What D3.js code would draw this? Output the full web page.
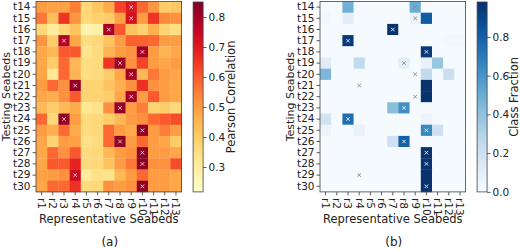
<!DOCTYPE html>
<html>
<head>
<meta charset="utf-8">
<script src="https://cdn.jsdelivr.net/npm/d3@7"></script>
<style>
  body { margin: 0; background: #fff; }
  svg text { font-family: "DejaVu Sans", sans-serif; fill: #222; }
  .axis path, .axis line { stroke: #333; stroke-width: 0.8; }
  .axis text { font-size: 10.5px; }
</style>
</head>
<body>
<svg id="chart" width="520" height="250"></svg>
<script>
// Categories
const refBeds = ["r1","r2","r3","r4","r5","r6","r7","r8","r9","r10","r11","r12","r13"];
const testBeds = ["t14","t15","t16","t17","t18","t19","t20","t21","t22","t23","t24","t25","t26","t27","t28","t29","t30"];

// (a) Pearson correlation, one row per testing seabed
const pearson = [
  [0.50,0.49,0.49,0.55,0.37,0.41,0.47,0.63,0.70,0.58,0.51,0.40,0.41],
  [0.56,0.43,0.65,0.51,0.37,0.39,0.40,0.49,0.72,0.50,0.65,0.53,0.52],
  [0.37,0.30,0.37,0.42,0.27,0.28,0.80,0.60,0.42,0.39,0.46,0.38,0.35],
  [0.51,0.40,0.78,0.48,0.35,0.37,0.42,0.50,0.59,0.59,0.58,0.50,0.50],
  [0.48,0.44,0.60,0.60,0.33,0.36,0.45,0.50,0.52,0.80,0.50,0.45,0.48],
  [0.48,0.40,0.58,0.44,0.35,0.36,0.65,0.81,0.52,0.63,0.50,0.48,0.50],
  [0.48,0.32,0.58,0.45,0.35,0.36,0.40,0.48,0.80,0.44,0.56,0.50,0.48],
  [0.50,0.58,0.52,0.82,0.38,0.38,0.42,0.46,0.52,0.66,0.52,0.50,0.48],
  [0.48,0.46,0.52,0.60,0.38,0.38,0.40,0.48,0.80,0.50,0.60,0.50,0.48],
  [0.44,0.40,0.44,0.47,0.32,0.34,0.52,0.82,0.50,0.55,0.38,0.40,0.37],
  [0.58,0.37,0.82,0.50,0.36,0.37,0.40,0.44,0.50,0.52,0.58,0.60,0.62],
  [0.50,0.46,0.58,0.47,0.36,0.37,0.58,0.50,0.47,0.83,0.50,0.55,0.50],
  [0.48,0.38,0.50,0.49,0.34,0.36,0.58,0.83,0.50,0.58,0.50,0.48,0.40],
  [0.48,0.58,0.52,0.60,0.36,0.37,0.44,0.50,0.52,0.83,0.50,0.50,0.48],
  [0.48,0.60,0.60,0.68,0.36,0.37,0.42,0.50,0.56,0.83,0.52,0.52,0.62],
  [0.49,0.50,0.52,0.74,0.30,0.34,0.33,0.44,0.50,0.58,0.50,0.50,0.48],
  [0.48,0.58,0.58,0.66,0.36,0.37,0.52,0.50,0.52,0.82,0.50,0.50,0.48]
];

// (b) Class fraction
const classFrac = [
  [0.01,0.01,0.48,0.01,0.01,0.01,0.01,0.01,0.50,0.01,0.01,0.01,0.01],
  [0.04,0.01,0.10,0.01,0.01,0.01,0.01,0.01,0.07,0.82,0.01,0.01,0.01],
  [0.01,0.01,0.01,0.01,0.01,0.01,0.97,0.01,0.01,0.01,0.01,0.01,0.01],
  [0.01,0.01,0.95,0.01,0.01,0.01,0.01,0.01,0.01,0.01,0.01,0.03,0.03],
  [0.01,0.01,0.01,0.01,0.01,0.01,0.01,0.01,0.01,0.95,0.01,0.01,0.01],
  [0.12,0.01,0.01,0.25,0.01,0.01,0.01,0.10,0.01,0.08,0.38,0.01,0.01],
  [0.45,0.01,0.01,0.01,0.01,0.01,0.01,0.01,0.01,0.25,0.01,0.22,0.01],
  [0.01,0.01,0.01,0.01,0.01,0.01,0.01,0.01,0.01,0.97,0.01,0.01,0.01],
  [0.01,0.01,0.01,0.01,0.01,0.01,0.01,0.01,0.01,0.97,0.01,0.01,0.01],
  [0.01,0.01,0.01,0.01,0.01,0.01,0.42,0.62,0.01,0.01,0.01,0.01,0.01],
  [0.18,0.01,0.75,0.01,0.01,0.01,0.01,0.01,0.01,0.06,0.01,0.01,0.01],
  [0.05,0.01,0.01,0.07,0.01,0.01,0.01,0.01,0.01,0.65,0.20,0.01,0.01],
  [0.01,0.01,0.01,0.01,0.01,0.01,0.20,0.80,0.01,0.01,0.01,0.01,0.01],
  [0.01,0.01,0.01,0.01,0.01,0.01,0.01,0.01,0.01,0.97,0.01,0.01,0.01],
  [0.01,0.01,0.01,0.01,0.01,0.01,0.01,0.01,0.01,0.97,0.01,0.01,0.01],
  [0.01,0.01,0.01,0.01,0.01,0.01,0.01,0.01,0.01,0.97,0.01,0.01,0.01],
  [0.01,0.01,0.01,0.01,0.01,0.01,0.01,0.01,0.01,0.97,0.01,0.01,0.01]
];

// best matching representative seabed per testing seabed (marked with x)
const bestMatch = ["r9","r9","r7","r3","r10","r8","r9","r4","r9","r8","r3","r10","r8","r10","r10","r4","r10"];

const pearsonTicks = [0.3, 0.4, 0.5, 0.6, 0.7, 0.8];
const fracTicks = [0.0, 0.2, 0.4, 0.6, 0.8];

const svg = d3.select("#chart");

function drawPanel(cfg) {
    const top = 1.5, cell = 11.2;
    const width = cell * refBeds.length, height = cell * testBeds.length;
    const g = svg.append("g").attr("transform", `translate(${cfg.left}, ${top})`);

    const x = d3.scaleBand().domain(refBeds).range([0, width]);
    const y = d3.scaleBand().domain(testBeds).range([0, height]);
    const color = d3.scaleSequential(cfg.interp).domain(cfg.domain);

    const cells = [];
    testBeds.forEach((t, i) => refBeds.forEach((r, j) => cells.push({t, r, v: cfg.values[i][j]})));

    g.selectAll("rect.cell")
        .data(cells)
        .enter().append("rect")
        .attr("class", "cell")
        .attr("x", d => x(d.r))
        .attr("y", d => y(d.t))
        .attr("width", x.bandwidth() + 0.3)
        .attr("height", y.bandwidth() + 0.3)
        .attr("fill", d => color(d.v));

    // x markers on the best match
    const marks = testBeds.map((t, i) => ({t, r: bestMatch[i], v: cfg.values[i][refBeds.indexOf(bestMatch[i])]}));
    const s = 1.8;
    g.selectAll("path.mark")
        .data(marks)
        .enter().append("path")
        .attr("class", "mark")
        .attr("d", d => {
            const cx = x(d.r) + x.bandwidth() / 2, cy = y(d.t) + y.bandwidth() / 2;
            return `M${cx - s},${cy - s}L${cx + s},${cy + s}M${cx - s},${cy + s}L${cx + s},${cy - s}`;
        })
        .attr("stroke", d => cfg.markColor(d.v))
        .attr("stroke-width", 0.9)
        .attr("fill", "none");

    // frame
    g.append("rect")
        .attr("width", width).attr("height", height)
        .attr("fill", "none").attr("stroke", "#444").attr("stroke-width", 0.8);

    const yAxis = g.append("g").attr("class", "axis")
        .call(d3.axisLeft(y).tickSize(3.5).tickPadding(2));
    yAxis.select(".domain").remove();

    const xAxis = g.append("g").attr("class", "axis")
        .attr("transform", `translate(0, ${height})`)
        .call(d3.axisBottom(x).tickSize(3.5).tickPadding(2));
    xAxis.select(".domain").remove();
    xAxis.selectAll("text")
        .attr("transform", "rotate(90)")
        .attr("text-anchor", "start")
        .attr("dy", "0.35em")
        .attr("x", 6)
        .attr("y", 0);

    g.append("text")
        .attr("x", width / 2).attr("y", height + 31)
        .attr("text-anchor", "middle").attr("font-size", 11.5)
        .text("Representative Seabeds");

    g.append("text")
        .attr("transform", `translate(${cfg.yTitleX}, ${height / 2}) rotate(-90)`)
        .attr("text-anchor", "middle").attr("font-size", 11)
        .text("Testing Seabeds");

    g.append("text")
        .attr("x", width / 2 + 1).attr("y", height + 54)
        .attr("text-anchor", "middle").attr("font-size", 12)
        .text(cfg.caption);

    // colorbar
    const cbX = width + 11.5, cbW = 10;
    const cbTop = 0.5, cbBottom = height;
    const cbScale = d3.scaleLinear().domain(cfg.domain).range([cbBottom, cbTop]);
    const grad = svg.append("defs").append("linearGradient")
        .attr("id", cfg.id).attr("x1", 0).attr("y1", 1).attr("x2", 0).attr("y2", 0);
    d3.range(0, 1.0001, 0.05).forEach(p => {
        grad.append("stop").attr("offset", p).attr("stop-color", cfg.interp(p));
    });
    g.append("rect")
        .attr("x", cbX).attr("y", cbTop)
        .attr("width", cbW).attr("height", cbBottom - cbTop)
        .attr("fill", `url(#${cfg.id})`)
        .attr("stroke", "#444").attr("stroke-width", 0.8);

    const cbAxis = g.append("g").attr("class", "axis")
        .attr("transform", `translate(${cbX + cbW}, 0)`)
        .call(d3.axisRight(cbScale).tickValues(cfg.ticks).tickFormat(d3.format(".1f")).tickSize(3.5).tickPadding(2));
    cbAxis.select(".domain").remove();
    cbAxis.selectAll("text").attr("font-size", 11);

    g.append("text")
        .attr("transform", `translate(${cbX + cfg.cbLabelOff}, ${(cbTop + cbBottom) / 2}) rotate(-90)`)
        .attr("text-anchor", "middle").attr("font-size", 11.5)
        .text(cfg.cbLabel);
}

drawPanel({
    id: "gradA", left: 36, values: pearson,
    interp: d3.interpolateYlOrRd, domain: [0.217, 0.85],
    ticks: pearsonTicks, cbLabel: "Pearson Correlation", cbLabelOff: 42,
    yTitleX: -26, caption: "(a)",
    markColor: v => "#f6d6d6"
});

drawPanel({
    id: "gradB", left: 320, values: classFrac,
    interp: d3.interpolateBlues, domain: [0, 0.98],
    ticks: fracTicks, cbLabel: "Class Fraction", cbLabelOff: 41,
    yTitleX: -26, caption: "(b)",
    markColor: v => v > 0.5 ? "#e8eef8" : "#888"
});
</script>
</body>
</html>
